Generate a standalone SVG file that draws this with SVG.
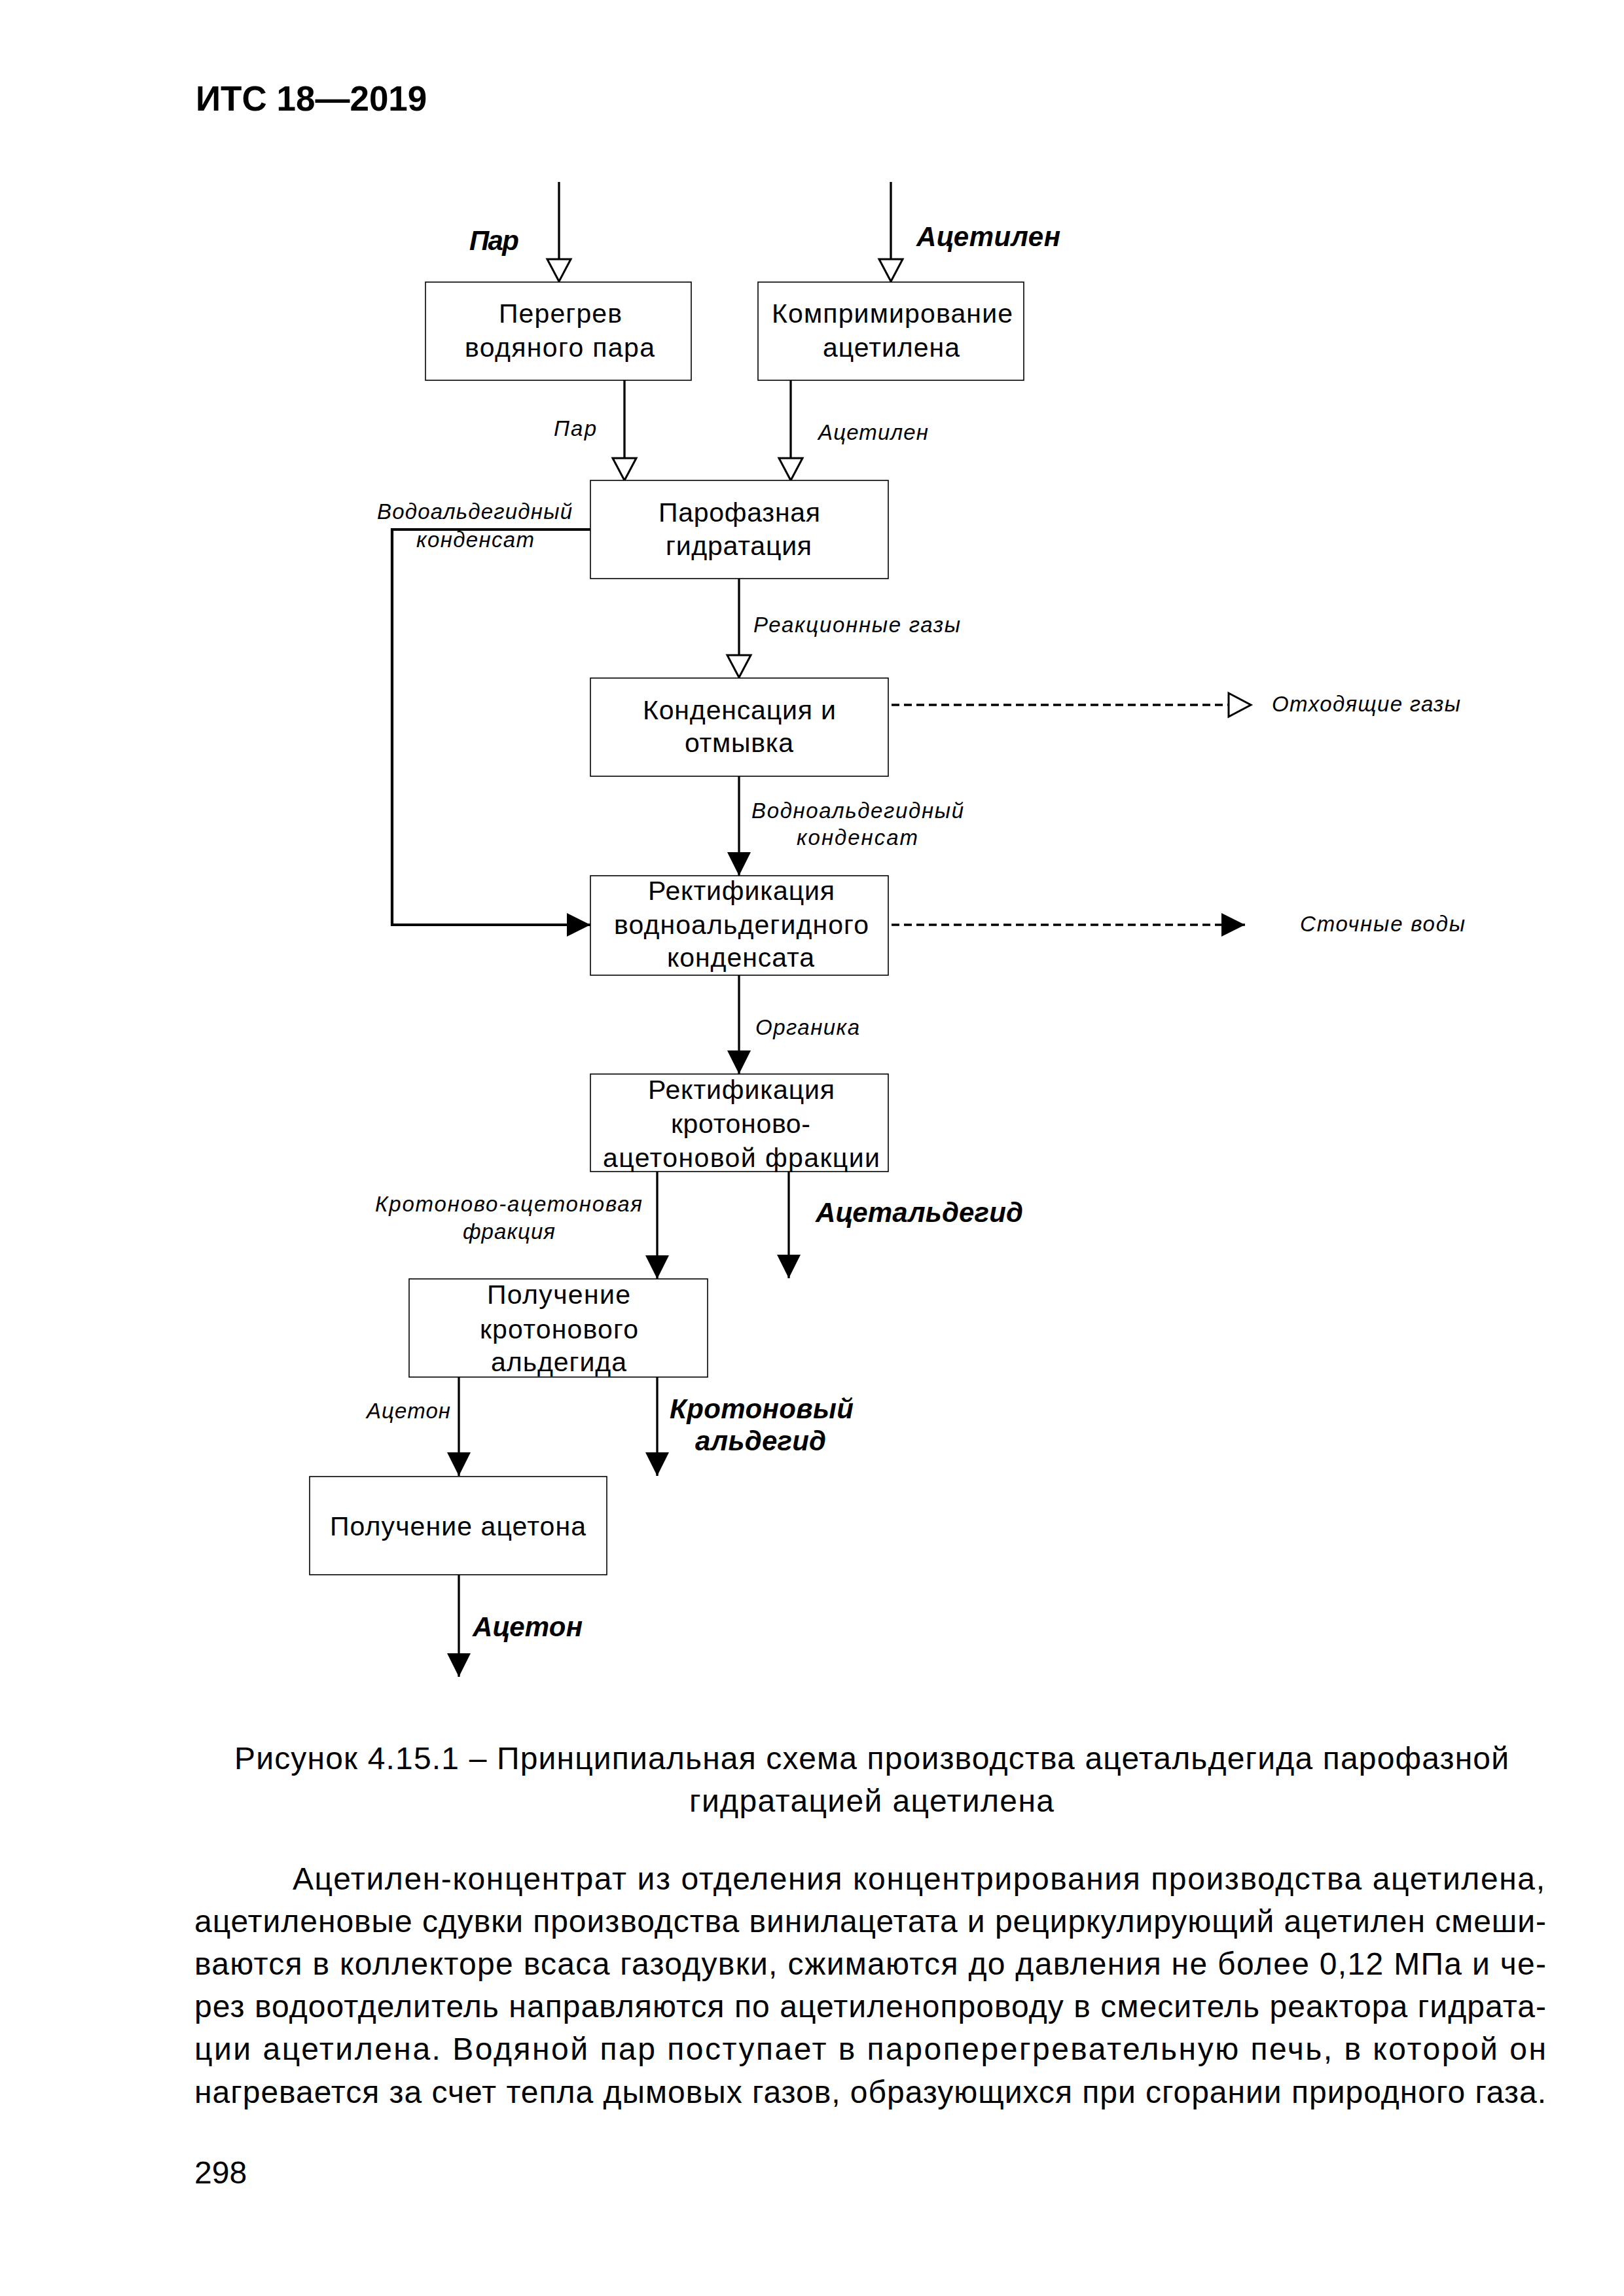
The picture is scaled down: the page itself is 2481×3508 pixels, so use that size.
<svg xmlns="http://www.w3.org/2000/svg" width="2481" height="3508" viewBox="0 0 2481 3508">
<style>
text{font-family:"Liberation Sans",Arial,sans-serif;fill:#000}
.hdr{font-size:53px;font-weight:bold}
.bt{font-size:41px}
.lbl{font-size:33px;font-style:italic}
.blbl{font-size:42px;font-style:italic;font-weight:bold}
.body{font-size:48px}
.box{fill:#fff;stroke:#000;stroke-width:1.6}
.ln{fill:none;stroke:#000;stroke-width:3.3}
.thick{stroke-width:4.2}
.dash{stroke-dasharray:12 7}
.h{marker-end:url(#hollow)}
.f{marker-end:url(#filled)}
</style>
<defs>
<marker id="hollow" viewBox="0 0 36 38" refX="35" refY="19" markerWidth="36" markerHeight="38" markerUnits="userSpaceOnUse" orient="auto" overflow="visible">
<path d="M1,1 L35,19 L1,37 Z" fill="#fff" stroke="#000" stroke-width="3" stroke-dasharray="none" stroke-linejoin="miter"/>
</marker>
<marker id="filled" viewBox="0 0 36 36" refX="36" refY="18" markerWidth="36" markerHeight="36" markerUnits="userSpaceOnUse" orient="auto" overflow="visible">
<path d="M0,0 L36,18 L0,36 Z" fill="#000" stroke="none"/>
</marker>
</defs>
<rect width="2481" height="3508" fill="#fff"/>

<text class="hdr" x="299" y="169">ИТС 18—2019</text>

<g id="connectors">
<path class="ln h" d="M854,278 V430"/>
<path class="ln h" d="M1361,278 V430"/>
<path class="ln h" d="M954,581 V734"/>
<path class="ln h" d="M1208,581 V734"/>
<path class="ln h" d="M1129,884 V1035"/>
<path class="ln h dash" d="M1362,1077 H1911"/>
<path class="ln f" d="M1129,1186 V1338"/>
<path class="ln thick f" d="M902,809 H599 V1413 H902"/>
<path class="ln f dash" d="M1362,1413 H1902"/>
<path class="ln f" d="M1129,1490 V1641"/>
<path class="ln f" d="M1004,1790 V1954"/>
<path class="ln f" d="M1205,1790 V1953"/>
<path class="ln f" d="M701,2104 V2255"/>
<path class="ln f" d="M1004,2104 V2255"/>
<path class="ln f" d="M701,2406 V2562"/>
</g>

<g id="labels">
<text class="blbl" x="717" y="382" textLength="76">Пар</text>
<text class="blbl" x="1400" y="376" textLength="220">Ацетилен</text>
<text class="lbl" x="846" y="666" textLength="65">Пар</text>
<text class="lbl" x="1250" y="672" textLength="168">Ацетилен</text>
<text class="lbl" x="576" y="793" textLength="298">Водоальдегидный</text>
<text class="lbl" x="636" y="836" textLength="180">конденсат</text>
<text class="lbl" x="1151" y="966" textLength="316">Реакционные газы</text>
<text class="lbl" x="1943" y="1087" textLength="288">Отходящие газы</text>
<text class="lbl" x="1148" y="1250" textLength="324">Водноальдегидный</text>
<text class="lbl" x="1217" y="1291" textLength="185">конденсат</text>
<text class="lbl" x="1986" y="1423" textLength="252">Сточные воды</text>
<text class="lbl" x="1154" y="1581" textLength="159">Органика</text>
<text class="lbl" x="573" y="1851" textLength="408">Кротоново-ацетоновая</text>
<text class="lbl" x="707" y="1893" textLength="141">фракция</text>
<text class="blbl" x="1246" y="1867" textLength="317">Ацетальдегид</text>
<text class="lbl" x="560" y="2167" textLength="128">Ацетон</text>
<text class="blbl" x="1023" y="2167" textLength="281">Кротоновый</text>
<text class="blbl" x="1062" y="2216" textLength="200">альдегид</text>
<text class="blbl" x="722" y="2500" textLength="168">Ацетон</text>
</g>

<g id="n1">
<rect class="box" x="650" y="431" width="406" height="150"/>
<text class="bt" x="762" y="493" textLength="188">Перегрев</text>
<text class="bt" x="710" y="545" textLength="290">водяного пара</text>
</g>
<g id="n2">
<rect class="box" x="1158" y="431" width="406" height="150"/>
<text class="bt" x="1179" y="493" textLength="368">Компримирование</text>
<text class="bt" x="1257" y="545" textLength="209">ацетилена</text>
</g>
<g id="n3">
<rect class="box" x="902" y="734" width="455" height="150"/>
<text class="bt" x="1006" y="797" textLength="247">Парофазная</text>
<text class="bt" x="1017" y="848" textLength="223">гидратация</text>
</g>
<g id="n4">
<rect class="box" x="902" y="1036" width="455" height="150"/>
<text class="bt" x="982" y="1099" textLength="295">Конденсация и</text>
<text class="bt" x="1046" y="1149" textLength="166">отмывка</text>
</g>
<g id="n5">
<rect class="box" x="902" y="1338" width="455" height="152"/>
<text class="bt" x="990" y="1375" textLength="285">Ректификация</text>
<text class="bt" x="938" y="1427" textLength="389">водноальдегидного</text>
<text class="bt" x="1019" y="1477" textLength="225">конденсата</text>
</g>
<g id="n6">
<rect class="box" x="902" y="1641" width="455" height="149"/>
<text class="bt" x="990" y="1679" textLength="285">Ректификация</text>
<text class="bt" x="1025" y="1731" textLength="213">кротоново-</text>
<text class="bt" x="921" y="1783" textLength="423">ацетоновой фракции</text>
</g>
<g id="n7">
<rect class="box" x="625" y="1954" width="456" height="150"/>
<text class="bt" x="744" y="1992" textLength="219">Получение</text>
<text class="bt" x="733" y="2045" textLength="242">кротонового</text>
<text class="bt" x="750" y="2095" textLength="207">альдегида</text>
</g>
<g id="n8">
<rect class="box" x="473" y="2256" width="454" height="150"/>
<text class="bt" x="504" y="2346" textLength="391">Получение ацетона</text>
</g>

<g id="caption">
<text class="body" x="358" y="2703" textLength="1947">Рисунок 4.15.1 – Принципиальная схема производства ацетальдегида парофазной</text>
<text class="body" x="1053" y="2768" textLength="557">гидратацией ацетилена</text>
</g>

<g id="paragraph">
<text class="body" x="447" y="2887" textLength="1913">Ацетилен-концентрат из отделения концентрирования производства ацетилена,</text>
<text class="body" x="297" y="2952" textLength="2065">ацетиленовые сдувки производства винилацетата и рециркулирующий ацетилен смеши-</text>
<text class="body" x="297" y="3017" textLength="2065">ваются в коллекторе всаса газодувки, сжимаются до давления не более 0,12 МПа и че-</text>
<text class="body" x="297" y="3082" textLength="2065">рез водоотделитель направляются по ацетиленопроводу в смеситель реактора гидрата-</text>
<text class="body" x="297" y="3147" textLength="2065">ции ацетилена. Водяной пар поступает в пароперегревательную печь, в которой он</text>
<text class="body" x="297" y="3213" textLength="2065">нагревается за счет тепла дымовых газов, образующихся при сгорании природного газа.</text>
<text class="body" x="297" y="3336">298</text>
</g>
</svg>
